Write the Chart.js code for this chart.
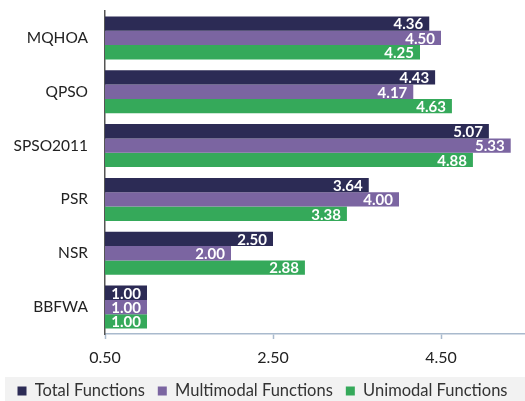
<!DOCTYPE html>
<html>
<head>
<meta charset="utf-8">
<style>
  html, body { margin: 0; padding: 0; background: #fff; }
  #wrap { width: 525px; height: 401px; position: relative; }
</style>
<script src="https://cdn.jsdelivr.net/npm/chart.js@4/dist/chart.umd.min.js"></script>
</head>
<body>
<div id="wrap"><canvas id="c" width="525" height="401"></canvas></div>
<script>
const categories = ['MQHOA', 'QPSO', 'SPSO2011', 'PSR', 'NSR', 'BBFWA'];
const totalFunctions = [4.36, 4.43, 5.07, 3.64, 2.50, 1.00];
const multimodalFunctions = [4.50, 4.17, 5.33, 4.00, 2.00, 1.00];
const unimodalFunctions = [4.25, 4.63, 4.88, 3.38, 2.88, 1.00];
const xTicks = [0.5, 2.5, 4.5];

const FONT = 'Lato, "Open Sans", sans-serif';

// White value labels drawn inside the end of each bar
const valueLabels = {
  id: 'valueLabels',
  afterDatasetsDraw(chart) {
    const ctx = chart.ctx;
    ctx.save();
    ctx.font = 'bold 15px ' + FONT;
    ctx.fillStyle = '#ffffff';
    ctx.textAlign = 'right';
    ctx.textBaseline = 'middle';
    chart.data.datasets.forEach((ds, i) => {
      chart.getDatasetMeta(i).data.forEach((bar, j) => {
        ctx.fillText(ds.data[j].toFixed(2), bar.x - 6, bar.y + 1);
      });
    });
    ctx.restore();
  }
};

// Light grey band along the bottom, behind the legend;
// the legend row is nudged up so it sits in the middle of the band
const legendBand = {
  id: 'legendBand',
  afterLayout(chart) {
    chart.legend.top -= 7.45;
  },
  beforeDraw(chart) {
    const ctx = chart.ctx;
    ctx.save();
    ctx.fillStyle = '#f2f2f2';
    ctx.fillRect(5, 377, chart.width - 5, chart.height - 377);
    ctx.restore();
  }
};

new Chart(document.getElementById('c'), {
  type: 'bar',
  data: {
    labels: categories,
    datasets: [
      { label: 'Total Functions', data: totalFunctions, backgroundColor: '#2c2b55' },
      { label: 'Multimodal Functions', data: multimodalFunctions, backgroundColor: '#7b65a1' },
      { label: 'Unimodal Functions', data: unimodalFunctions, backgroundColor: '#35a95a' }
    ]
  },
  options: {
    indexAxis: 'y',
    responsive: false,
    animation: false,
    devicePixelRatio: 1,
    datasets: { bar: { categoryPercentage: 0.8, barPercentage: 1.0, borderWidth: 0 } },
    layout: { padding: { top: 11, right: 0, left: 0, bottom: 0 } },
    scales: {
      x: {
        min: 0.5,
        max: 5.5,
        afterBuildTicks(scale) { scale.ticks = xTicks.map(v => ({ value: v })); },
        ticks: {
          callback: v => Number(v).toFixed(2),
          font: { family: FONT, size: 16 },
          color: '#222',
          padding: 9.5
        },
        grid: { drawOnChartArea: false, color: '#a9bacd', tickLength: 5, tickWidth: 1.5 },
        border: { color: '#a9bacd', width: 1.5 }
      },
      y: {
        afterFit(scale) {
          scale.width = 105;
          scale.paddingTop = 0;
          scale.paddingBottom = 0;
        },
        ticks: {
          font: { family: FONT, size: 15.5 },
          color: '#222',
          padding: 17
        },
        grid: { display: false, drawTicks: false },
        border: { color: '#555', width: 1.5 }
      }
    },
    plugins: {
      legend: {
        position: 'bottom',
        maxHeight: 23.8,
        labels: {
          boxWidth: 9,
          boxHeight: 9,
          padding: 13,
          color: '#333',
          font: { family: FONT, size: 16.5 }
        }
      },
      tooltip: { enabled: false }
    }
  },
  plugins: [legendBand, valueLabels]
});
</script>
</body>
</html>
